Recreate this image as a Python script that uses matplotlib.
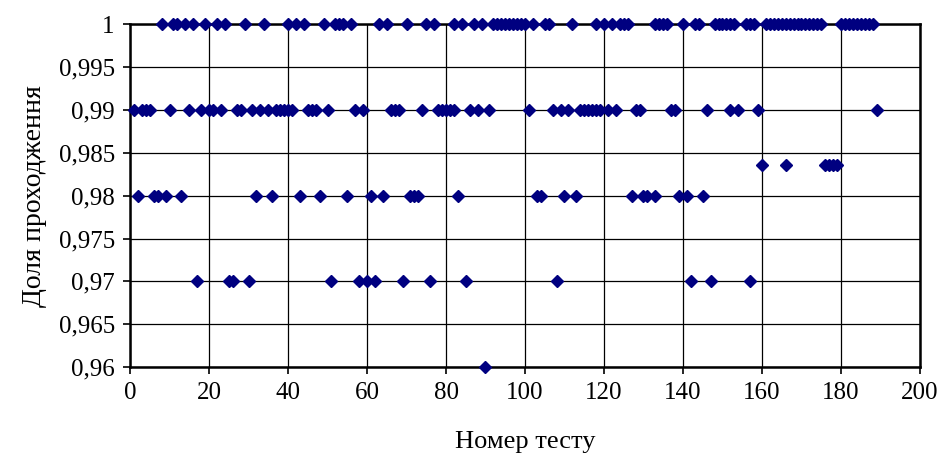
import matplotlib.pyplot as plt
from matplotlib.ticker import FuncFormatter, MultipleLocator

plt.rcParams['font.family'] = ['Liberation Serif', 'DejaVu Serif']

# test numbers grouped by pass fraction
tests_100 = [8, 11, 12, 14, 16, 19, 22, 24, 29, 34, 40, 42, 44, 49, 52, 53, 54, 56,
             63, 65, 70, 75, 77, 82, 84, 87, 89, 92, 93, 94, 95, 96, 97, 98, 99, 100,
             102, 105, 106, 112, 118, 120, 122, 124, 125, 126, 133, 134, 135, 136,
             140, 143, 144, 148, 149, 150, 151, 152, 153, 156, 157, 158,
             161, 162, 163, 164, 165, 166, 167, 168, 169, 170, 171, 172, 173, 174, 175,
             180, 181, 182, 183, 184, 185, 186, 187, 188]
tests_99 = [1, 3, 4, 5, 10, 15, 18, 20, 21, 23, 27, 28, 31, 33, 35, 37, 38, 39, 40, 41,
            45, 46, 47, 50, 57, 59, 66, 67, 68, 74, 78, 79, 80, 81, 82, 86, 88, 91, 101,
            107, 109, 111, 114, 115, 116, 117, 118, 119, 121, 123, 128, 129, 137, 138,
            146, 152, 154, 159, 189]
tests_9836 = [160, 166, 176, 177, 178, 179]
tests_98 = [2, 6, 7, 9, 13, 32, 36, 43, 48, 55, 61, 64, 71, 72, 73, 83, 103, 104,
            110, 113, 127, 130, 131, 133, 139, 141, 145]
tests_97 = [17, 25, 26, 30, 51, 58, 60, 62, 69, 76, 85, 108, 142, 147, 157]
tests_96 = [90]

groups = [(tests_100, 1.0), (tests_99, 0.99), (tests_9836, 60 / 61),
          (tests_98, 0.98), (tests_97, 0.97), (tests_96, 0.96)]

fig = plt.figure(figsize=(9.45, 4.59), dpi=100)
ax = fig.add_axes([0.1376, 0.2004, 0.8359, 0.7466])

for xs, frac in groups:
    ax.plot(xs, [frac] * len(xs), linestyle='none', marker='D', markersize=6.4,
            color='#000080', clip_on=False, zorder=3)

ax.set_xlim(0, 200)
ax.set_ylim(0.96, 1.0)
ax.xaxis.set_major_locator(MultipleLocator(20))
ax.yaxis.set_major_locator(MultipleLocator(0.005))
ax.yaxis.set_major_formatter(FuncFormatter(
    lambda v, p: ('%.3f' % v).rstrip('0').rstrip('.').replace('.', ',')))

ax.grid(True, color='black', linewidth=0.9)
ax.set_axisbelow(True)
for s in ax.spines.values():
    s.set_linewidth(1.8)
    s.set_color('black')

ax.tick_params(direction='out', length=5, width=1.2, labelsize=18, pad=6)
ax.set_xlabel('Номер тесту', fontsize=19, labelpad=19)
ax.set_ylabel('Доля проходження', fontsize=20, labelpad=8)

fig.savefig('out.png', dpi=100)
